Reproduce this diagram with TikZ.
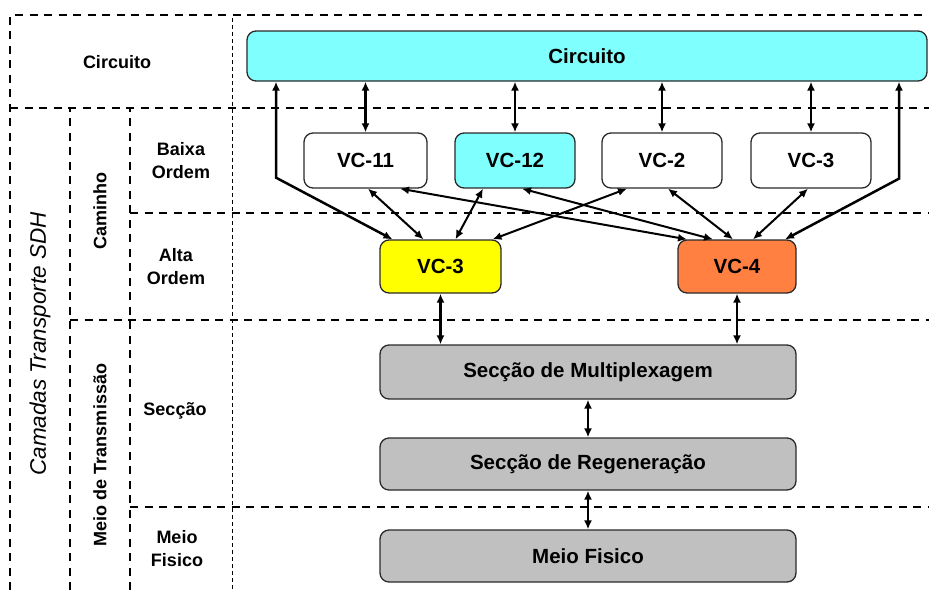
\documentclass[tikz,border=0pt]{standalone}
\usepackage{fontspec}
\setmainfont{Liberation Sans}
\usetikzlibrary{arrows.meta}

\definecolor{aqua}{HTML}{80FFFF}
\definecolor{vcyellow}{HTML}{FFFF00}
\definecolor{vcorange}{HTML}{FF8040}
\definecolor{boxgray}{HTML}{C0C0C0}
\definecolor{edge}{HTML}{2A2A2A}

\tikzset{
  layerbox/.style={draw=edge, line width=1.3pt, rounded corners=9pt, inner sep=0pt,
    font=\fontsize{20.5}{24}\selectfont\bfseries},
  sidelabel/.style={font=\fontsize{18}{23}\selectfont\bfseries, align=center, inner sep=0pt},
  grid/.style={line width=1.2pt, dash pattern=on 8pt off 6.5pt},
  finegrid/.style={line width=1pt, dash pattern=on 3.5pt off 3.5pt},
  tip/.tip={Latex[length=9pt,width=8pt]},
  link/.style={line width=2.5pt, tip-tip},
  thinlink/.style={line width=2pt, tip-tip}
}

\begin{document}
\begin{tikzpicture}[x=1pt, y=-1pt]
  \useasboundingbox (0,0) rectangle (929,590);

  % layer grid
  \draw[grid] (10,590) -- (10,15) -- (929,15);
  \draw[grid] (10,108) -- (929,108);
  \draw[grid] (70,590) -- (70,108);
  \draw[grid] (130,590) -- (130,108);
  \draw[grid] (130,213) -- (929,213);
  \draw[grid] (70,320) -- (929,320);
  \draw[grid] (130,507) -- (929,507);
  \draw[finegrid] (232,18) -- (232,590);

  % layer names
  \node[sidelabel] (lcirc) at (117,62) {Circuito};
  \node[sidelabel] (lbaixa) at (181,161) {Baixa\\Ordem};
  \node[sidelabel] (lalta) at (176,267) {Alta\\Ordem};
  \node[sidelabel] (lsec) at (175,411) {Secção};
  \node[sidelabel] (lmeio) at (177,549) {Meio\\Fisico};
  \node[sidelabel, rotate=90] (lcam) at (100,211) {Caminho};
  \node[sidelabel, rotate=90] (ltrans) at (100,455) {Meio de Transmissão};
  \node[font=\fontsize{22.5}{26}\selectfont\itshape, rotate=90, inner sep=0pt] (lsdh) at (40,344) {Camadas Transporte SDH};

  % functional blocks
  \node[layerbox, fill=aqua, minimum width=680pt, minimum height=50pt] (circ) at (587,56) {Circuito};

  \node[layerbox, fill=white, minimum width=123pt, minimum height=55pt] (vc11) at (365.5,160.5) {VC-11};
  \node[layerbox, fill=aqua, minimum width=120pt, minimum height=55pt] (vc12) at (515,160.5) {VC-12};
  \node[layerbox, fill=white, minimum width=120pt, minimum height=55pt] (vc2) at (662,160.5) {VC-2};
  \node[layerbox, fill=white, minimum width=120pt, minimum height=55pt] (vc3lo) at (811,160.5) {VC-3};

  \node[layerbox, fill=vcyellow, minimum width=121pt, minimum height=53pt] (vc3) at (440.5,266.5) {VC-3};
  \node[layerbox, fill=vcorange, minimum width=118pt, minimum height=53pt] (vc4) at (737,266.5) {VC-4};

  \node[layerbox, fill=boxgray, minimum width=416pt, minimum height=54pt] (mux) at (588,372) {Secção de Multiplexagem};
  \node[layerbox, fill=boxgray, minimum width=416pt, minimum height=52pt] (reg) at (588,464) {Secção de Regeneração};
  \node[layerbox, fill=boxgray, minimum width=416pt, minimum height=52pt] (phy) at (588,556) {Meio Fisico};

  % circuit to lower-order paths
  \draw[link] (vc11.north) -- (vc11.north |- circ.south);
  \draw[link] (vc12.north) -- (vc12.north |- circ.south);
  \draw[link] (vc2.north) -- (vc2.north |- circ.south);
  \draw[link] (vc3lo.north) -- (vc3lo.north |- circ.south);

  % circuit directly to higher-order paths
  \draw[link] ([xshift=-311pt]circ.south) -- ++(0,96) -- ([xshift=-48pt]vc3.north);
  \draw[link] ([xshift=312pt]circ.south) -- ++(0,97) -- ([xshift=48pt]vc4.north);

  % lower-order to higher-order paths
  \draw[thinlink] ([xshift=2.5pt]vc11.south) -- ([xshift=-17pt]vc3.north);
  \draw[thinlink] ([xshift=34.5pt]vc11.south) -- ([xshift=-50pt]vc4.north);
  \draw[thinlink] ([xshift=-32pt]vc12.south) -- ([xshift=15pt]vc3.north);
  \draw[thinlink] ([xshift=7pt]vc12.south) -- ([xshift=-24pt]vc4.north);
  \draw[thinlink] ([xshift=-35pt]vc2.south) -- ([xshift=52pt]vc3.north);
  \draw[thinlink] ([xshift=6pt]vc2.south) -- ([xshift=-4pt]vc4.north);
  \draw[thinlink] ([xshift=-3pt]vc3lo.south) -- ([xshift=16pt]vc4.north);

  % higher-order paths to the transmission medium
  \draw[link] (vc3.south) -- (vc3.south |- mux.north);
  \draw[link] (vc4.south) -- (vc4.south |- mux.north);
  \draw[link] (mux.south) -- (reg.north);
  \draw[link] (reg.south) -- (phy.north);
\end{tikzpicture}
\end{document}
